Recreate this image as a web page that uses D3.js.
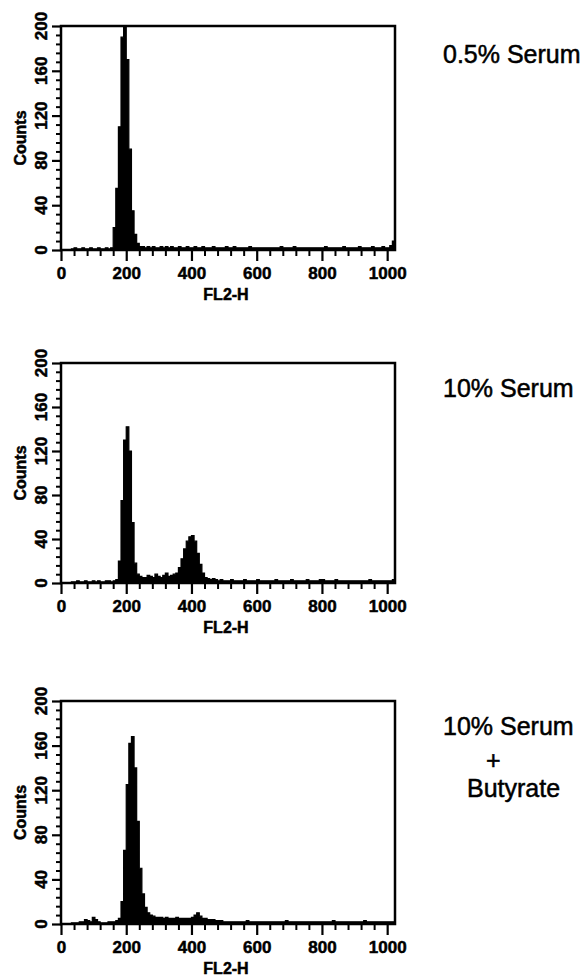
<!DOCTYPE html>
<html>
<head>
<meta charset="utf-8">
<script src="https://cdn.jsdelivr.net/npm/d3@7"></script>
<style>
  body { margin: 0; background: #fff; }
  svg { display: block; font-family: "Liberation Sans", Arial, Helvetica, sans-serif; }
</style>
</head>
<body>
<div id="chart"></div>
<script>
// FL2-H histograms, counts per 8-channel bin (channels 0..1023)
const BIN = 8;
const xTicks = [0, 200, 400, 600, 800, 1000];
const yTicks = [0, 40, 80, 120, 160, 200];

const serum05 = [
  0, 0, 0, 0, 1, 2, 1, 1, 2, 1, 1, 2, 1, 1, 2, 1,
  1, 2, 1, 2, 20, 55, 110, 190, 205, 170, 90, 35, 14, 6, 3, 3,
  2, 3, 2, 3, 2, 2, 3, 2, 3, 2, 3, 2, 2, 3, 2, 2,
  3, 2, 2, 3, 2, 2, 3, 2, 2, 2, 3, 2, 2, 2, 2, 3,
  2, 2, 3, 2, 2, 2, 2, 2, 3, 2, 2, 2, 2, 2, 2, 2,
  2, 2, 2, 2, 3, 2, 2, 2, 2, 3, 2, 2, 2, 2, 2, 2,
  2, 2, 2, 2, 2, 3, 2, 2, 2, 2, 2, 2, 3, 2, 2, 2,
  2, 2, 3, 2, 2, 2, 2, 3, 2, 2, 2, 3, 2, 2, 4, 8
];

const serum10 = [
  0, 0, 0, 0, 1, 1, 2, 1, 1, 2, 1, 1, 2, 1, 2, 1,
  1, 2, 2, 1, 2, 3, 20, 75, 130, 142, 120, 55, 18, 8, 6, 5,
  5, 7, 6, 5, 8, 6, 5, 7, 9, 6, 7, 8, 9, 14, 22, 31,
  38, 42, 43, 38, 27, 17, 9, 5, 4, 3, 4, 3, 2, 3, 2, 2,
  2, 3, 2, 2, 2, 2, 3, 2, 2, 2, 2, 3, 2, 2, 2, 2,
  2, 2, 3, 2, 2, 2, 2, 2, 3, 2, 2, 2, 2, 2, 3, 2,
  2, 2, 2, 3, 3, 2, 2, 2, 2, 3, 2, 2, 2, 2, 2, 2,
  2, 2, 2, 2, 2, 2, 3, 2, 2, 2, 2, 2, 2, 2, 2, 3
];

const serum10But = [
  0, 0, 0, 0, 1, 1, 1, 2, 2, 4, 3, 2, 6, 4, 2, 1,
  1, 1, 2, 2, 2, 3, 5, 20, 66, 125, 162, 168, 140, 92, 50, 27,
  15, 10, 8, 7, 6, 6, 6, 5, 6, 5, 5, 5, 6, 5, 5, 5,
  5, 5, 6, 8, 10, 7, 5, 5, 4, 4, 4, 3, 3, 3, 2, 2,
  2, 2, 2, 2, 2, 2, 2, 3, 2, 2, 2, 2, 2, 2, 2, 2,
  2, 2, 2, 2, 2, 2, 3, 2, 2, 2, 2, 2, 2, 2, 2, 2,
  2, 2, 2, 2, 2, 2, 2, 2, 3, 2, 2, 2, 2, 2, 2, 2,
  2, 2, 2, 2, 3, 2, 2, 2, 2, 2, 2, 2, 2, 2, 2, 2
];

const conditions = [
  ["0.5% Serum"],
  ["10% Serum"],
  ["10% Serum", "+", "Butyrate"]
];

// page layout
const W = 584, H = 976;
const left = 61, right = 395;
const panels = [
  { data: serum05, top: 26, h: 224, labels: [{ x: 443, y: 63 }] },
  { data: serum10, top: 363, h: 220, labels: [{ x: 443, y: 397 }] },
  { data: serum10But, top: 701, h: 223,
    labels: [{ x: 443, y: 735 }, { x: 486, y: 769 }, { x: 467, y: 797 }] }
];

const svg = d3.select('#chart').append('svg')
  .attr('width', W)
  .attr('height', H);

svg.append('rect').attr('width', W).attr('height', H).attr('fill', '#fff');

const x = d3.scaleLinear().domain([0, 1024]).range([left, right]);

// scanned print look: bold text with a thin outline
function boldText(sel, size) {
  sel.attr('font-size', size)
    .attr('font-weight', 'bold')
    .attr('font-family', '"Liberation Sans", Arial, sans-serif')
    .attr('fill', '#000')
    .attr('stroke', '#000')
    .attr('stroke-width', 0.5);
}

panels.forEach((p, pi) => {
  const bottom = p.top + p.h;
  const y = d3.scaleLinear().domain([0, 200]).range([bottom, p.top]);
  const g = svg.append('g');

  // clip so the clipped peak stops at the frame
  const clipId = 'clip' + pi;
  g.append('clipPath').attr('id', clipId)
    .append('rect')
    .attr('x', left).attr('y', p.top)
    .attr('width', right - left).attr('height', p.h);

  const pts = p.data.map((c, i) => [i * BIN, c]);
  pts.push([p.data.length * BIN, p.data[p.data.length - 1]]);

  const area = d3.area()
    .x(d => x(d[0]))
    .y0(y(0))
    .y1(d => y(d[1]))
    .curve(d3.curveStepAfter);

  g.append('path')
    .datum(pts)
    .attr('clip-path', `url(#${clipId})`)
    .attr('d', area)
    .attr('fill', '#000')
    .attr('stroke', '#000')
    .attr('stroke-width', 1.2);

  // x axis: major + minor ticks
  const xMinor = d3.range(0, 1025, 40).filter(v => v % 200 !== 0);
  const xMaj = g.append('g')
    .attr('transform', `translate(0,${bottom})`)
    .call(d3.axisBottom(x).tickValues(xTicks).tickSize(11).tickPadding(6)
      .tickFormat(d3.format('d')));
  xMaj.select('.domain').remove();
  xMaj.selectAll('line').attr('stroke-width', 2.2);
  boldText(xMaj.selectAll('text'), 17);

  const xMin = g.append('g')
    .attr('transform', `translate(0,${bottom})`)
    .call(d3.axisBottom(x).tickValues(xMinor).tickSize(6).tickFormat(''));
  xMin.select('.domain').remove();
  xMin.selectAll('line').attr('stroke-width', 2);

  // y axis
  const yMinor = d3.range(0, 201, 8).filter(v => v % 40 !== 0);
  const yMaj = g.append('g')
    .attr('transform', `translate(${left},0)`)
    .call(d3.axisLeft(y).tickValues(yTicks).tickSize(9).tickFormat(''));
  yMaj.select('.domain').remove();
  yMaj.selectAll('line').attr('stroke-width', 2.2);

  const yMin = g.append('g')
    .attr('transform', `translate(${left},0)`)
    .call(d3.axisLeft(y).tickValues(yMinor).tickSize(5).tickFormat(''));
  yMin.select('.domain').remove();
  yMin.selectAll('line').attr('stroke-width', 2);

  // rotated y tick labels
  const yLab = g.append('g')
    .selectAll('text')
    .data(yTicks)
    .enter().append('text')
    .attr('transform', d => `translate(47,${y(d)}) rotate(-90)`)
    .attr('text-anchor', 'middle')
    .text(d => d);
  boldText(yLab, 17);

  // frame
  g.append('rect')
    .attr('x', left).attr('y', p.top)
    .attr('width', right - left).attr('height', p.h)
    .attr('fill', 'none')
    .attr('stroke', '#000')
    .attr('stroke-width', 2.5);

  // axis titles
  const yTitle = g.append('text')
    .attr('transform', `translate(26,${(p.top + bottom) / 2}) rotate(-90)`)
    .attr('text-anchor', 'middle')
    .text('Counts');
  boldText(yTitle, 16);

  const xTitle = g.append('text')
    .attr('x', 226)
    .attr('y', bottom + 50)
    .attr('text-anchor', 'middle')
    .text('FL2-H');
  boldText(xTitle, 16);

  // condition label on the right
  g.append('g')
    .selectAll('text')
    .data(conditions[pi])
    .enter().append('text')
    .attr('x', (d, i) => p.labels[i].x)
    .attr('y', (d, i) => p.labels[i].y)
    .attr('font-size', 25)
    .attr('fill', '#000')
    .attr('stroke', '#000')
    .attr('stroke-width', 0.5)
    .text(d => d);
});
</script>
</body>
</html>
